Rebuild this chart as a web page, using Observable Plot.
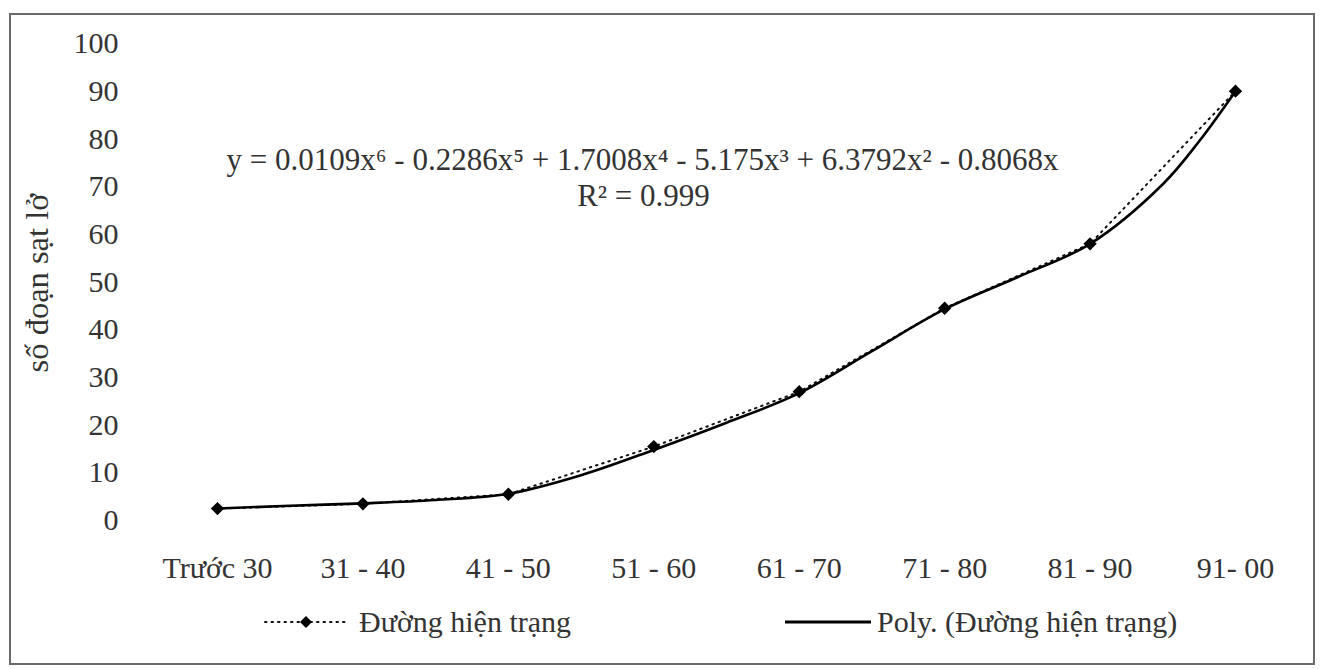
<!DOCTYPE html>
<html>
<head>
<meta charset="utf-8">
<script src="https://cdn.jsdelivr.net/npm/d3@7"></script>
<script src="https://cdn.jsdelivr.net/npm/@observablehq/plot@0.6"></script>
<style>
  html, body { margin: 0; padding: 0; background: #fff; }
  #wrap { position: relative; width: 1322px; height: 669px; font-family: "Liberation Serif", "DejaVu Serif", serif; color: #333; }
  #frame { position: absolute; left: 9px; top: 13px; width: 1306px; height: 652px; box-sizing: border-box; border: 2px solid #6a6a6a; pointer-events: none; }
  #legend { position: relative; width: 1322px; height: 69px; }
  .litem { position: absolute; top: 4px; height: 36px; display: flex; align-items: center; font-size: 30px; white-space: nowrap; }
  .litem svg { margin-right: 12px; }
</style>
</head>
<body>
<div id="wrap">
  <div id="chart"></div>
  <div id="legend"></div>
  <div id="frame"></div>
</div>
<script>
// ---- data ----
const categories = ["Trước 30", "31 - 40", "41 - 50", "51 - 60", "61 - 70", "71 - 80", "81 - 90", "91- 00"];
const seriesValues = [2.5, 3.5, 5.5, 15.5, 27, 44.5, 58, 90];
// polynomial trend line at half-category steps
const trendX = [1, 1.5, 2, 2.5, 3, 3.5, 4, 4.5, 5, 5.5, 6, 6.5, 7, 7.5, 7.75, 8];
const trendY = [2.5, 3.1, 3.6, 4.3, 5.6, 9.5, 14.8, 20.5, 26.7, 35.5, 44.3, 51, 58, 70.5, 79.5, 90];
const yTicks = [0, 10, 20, 30, 40, 50, 60, 70, 80, 90, 100];
const yTitle = "số đoạn sạt lở";
const equation = "y = 0.0109x⁶ - 0.2286x⁵ + 1.7008x⁴ - 5.175x³ + 6.3792x² - 0.8068x";
const rSquared = "R² = 0.999";
const seriesName = "Đường hiện trạng";
const trendName = "Poly. (Đường hiện trạng)";

const series = categories.map((c, i) => ({x: i + 1, y: seriesValues[i]}));
const trend = trendX.map((x, i) => ({x, y: trendY[i]}));

const chart = Plot.plot({
  width: 1322,
  height: 600,
  marginLeft: 217,
  marginRight: 87,
  marginTop: 43,
  marginBottom: 80,
  style: {fontFamily: "Liberation Serif, serif", fontSize: "30px", color: "#333", background: "transparent"},
  x: {type: "linear", domain: [1, 8], ticks: categories.map((c, i) => i + 1), tickFormat: d => categories[d - 1], tickSize: 0, tickPadding: 36, label: null},
  y: {domain: [0, 100], ticks: yTicks, tickSize: 0, tickPadding: 99, label: null},
  marks: [
    Plot.line(series, {x: "x", y: "y", stroke: "#111", strokeWidth: 2, strokeDasharray: "1.5,5", strokeLinecap: "round"}),
    Plot.line(trend, {x: "x", y: "y", stroke: "#000", strokeWidth: 2.6, curve: "catmull-rom"}),
    Plot.dot(series, {x: "x", y: "y", symbol: "diamond2", r: 6, fill: "#000", stroke: "none"}),
    Plot.text([yTitle], {frameAnchor: "left", textAnchor: "middle", lineAnchor: "middle", rotate: -90, dx: -180, dy: 1, fontSize: 32.5, fill: "#333"}),
    Plot.text([equation], {frameAnchor: "top", textAnchor: "middle", lineAnchor: "middle", dx: -84, dy: 117, fontSize: 31, fill: "#333"}),
    Plot.text([rSquared], {frameAnchor: "top", textAnchor: "middle", lineAnchor: "middle", dx: -83, dy: 153, fontSize: 31, fill: "#333"})
  ]
});
document.getElementById("chart").appendChild(chart);

// ---- legend ----
const legend = document.getElementById("legend");
const item1 = document.createElement("div");
item1.className = "litem";
item1.style.left = "263px";
item1.innerHTML = `<svg width="84" height="20"><line x1="2" y1="10" x2="82" y2="10" stroke="#111" stroke-width="2" stroke-dasharray="1.5,5" stroke-linecap="round"/><path d="M43,4 L49,10 L43,16 L37,10 Z" fill="#000"/></svg><span>${seriesName}</span>`;
legend.appendChild(item1);
const item2 = document.createElement("div");
item2.className = "litem";
item2.style.left = "785px";
item2.innerHTML = `<svg width="86" height="20" style="margin-right:6px"><line x1="0" y1="10" x2="86" y2="10" stroke="#000" stroke-width="3"/></svg><span>${trendName}</span>`;
legend.appendChild(item2);
</script>
</body>
</html>
